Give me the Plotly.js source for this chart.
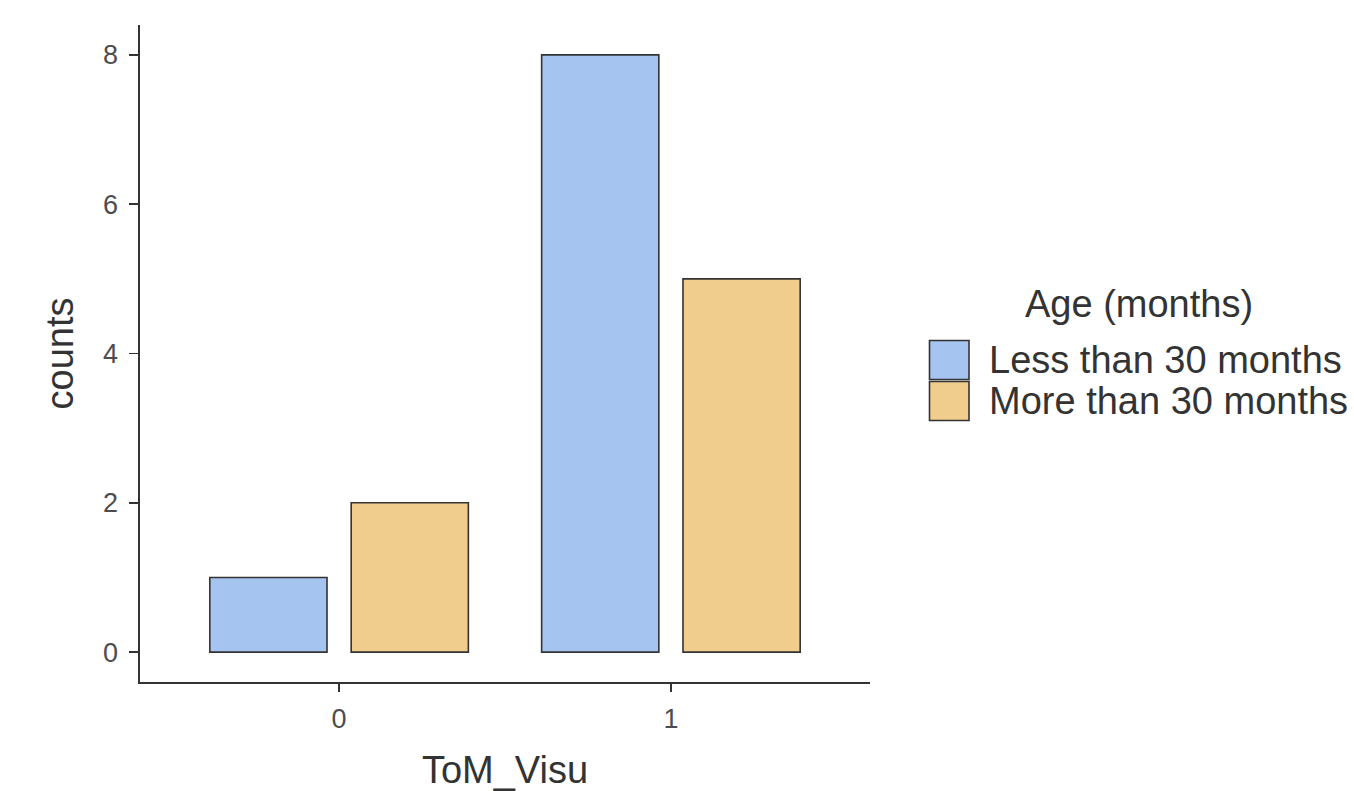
<!DOCTYPE html>
<html>
<head>
<meta charset="utf-8">
<script src="https://cdn.plot.ly/plotly-3.0.1.min.js"></script>
<style>html,body{margin:0;padding:0;background:#fff;}#chart{width:1354px;height:791px;}</style>
</head>
<body>
<div id="chart"></div>
<script>
var categories = ["0", "1"];
var seriesNames = ["Less than 30 months", "More than 30 months"];
var lessThan30 = [1, 8];
var moreThan30 = [2, 5];
var seriesColors = ["#A6C4F0", "#F0CD8C"];
var yTicks = [0, 2, 4, 6, 8];
var legendTitle = "Age (months)";

var seriesValues = [lessThan30, moreThan30];
var edgeColor = "#333333";
var edge = {color: edgeColor, width: 1.6};
var traces = seriesValues.map(function (vals, i) {
  return {type: "bar", x: categories, y: vals, name: seriesNames[i],
          marker: {color: seriesColors[i], line: edge}, showlegend: false};
});

// plot-area pixel geometry -> paper coordinates helpers
var W = 1354, H = 791, mL = 140, mR = 484, mT = 25, mB = 109;
var pw = W - mL - mR, ph = H - mT - mB;
function px(x) { return (x - mL) / pw; }
function py(y) { return (H - mB - y) / ph; }

var fam = "Liberation Sans, Arial, Helvetica, sans-serif";
var textSize = 38;

var shapes = [];
var annotations = [{
  xref: "paper", yref: "paper", x: px(1139), y: py(304),
  xanchor: "center", yanchor: "middle", showarrow: false,
  text: legendTitle, font: {size: textSize, color: "#333333", family: fam}
}];
var keyTops = [340.5, 381.5];
var keyH = 39, keyX0 = 929.5, keyX1 = 969;
seriesNames.forEach(function (nm, i) {
  shapes.push({
    type: "rect", xref: "paper", yref: "paper",
    x0: px(keyX0), x1: px(keyX1), y0: py(keyTops[i] + keyH), y1: py(keyTops[i]),
    fillcolor: seriesColors[i], line: {color: edgeColor, width: 1.6}
  });
  annotations.push({
    xref: "paper", yref: "paper", x: px(987), y: py(keyTops[i] + keyH / 2),
    xanchor: "left", yanchor: "middle", showarrow: false,
    text: nm, font: {size: textSize, color: "#333333", family: fam}
  });
});

var layout = {
  width: W, height: H,
  margin: {l: mL, r: mR, t: mT, b: mB, pad: 0},
  paper_bgcolor: "#ffffff", plot_bgcolor: "#ffffff",
  font: {family: fam, color: "#333333"},
  barmode: "group", bargap: 0.148, bargroupgap: 0.171,
  showlegend: false,
  xaxis: {
    type: "category", range: [-0.6, 1.6],
    showline: true, linecolor: edgeColor, linewidth: 1.6,
    ticks: "outside", ticklen: 8, tickwidth: 1.6, tickcolor: edgeColor,
    ticklabelstandoff: 4,
    showgrid: false, zeroline: false,
    tickfont: {size: 27, color: "#4d4d4d"},
    title: {text: "ToM_Visu", font: {size: textSize, color: "#333333"}, standoff: 25}
  },
  yaxis: {
    range: [-0.4, 8.4], tickvals: yTicks, ticktext: yTicks.map(String),
    showline: true, linecolor: edgeColor, linewidth: 1.6,
    ticks: "outside", ticklen: 9, tickwidth: 1.6, tickcolor: edgeColor,
    ticklabelstandoff: 6,
    showgrid: false, zeroline: false,
    tickfont: {size: 27, color: "#4d4d4d"},
    title: {text: "counts", font: {size: textSize, color: "#333333"}, standoff: 17}
  },
  shapes: shapes,
  annotations: annotations
};

Plotly.newPlot("chart", traces, layout, {displayModeBar: false, staticPlot: true});
</script>
</body>
</html>
